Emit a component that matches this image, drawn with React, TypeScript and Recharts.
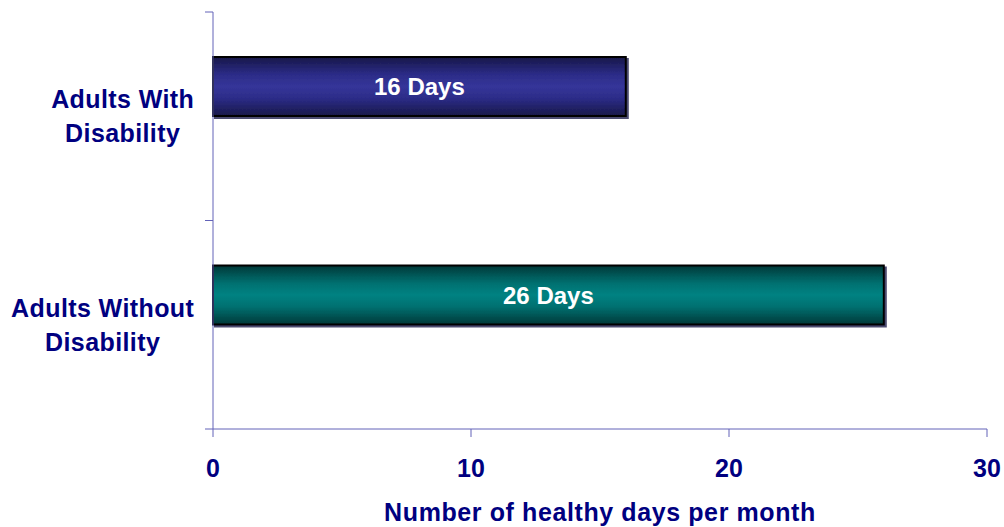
import { Bar, BarChart, Cell, LabelList, XAxis, YAxis } from "recharts";

// groups shown on the category axis (line break = label wrap)
const groups = ["Adults With\nDisability", "Adults Without\nDisability"];
const healthyDays = [16, 26];
// the source chart reserves a second (empty) slot in each group
const emptySeries = [null, null];
const xTicks = [0, 10, 20, 30];

const data = groups.map((g, i) => ({
  group: g,
  days: healthyDays[i],
  blank: emptySeries[i],
}));

const W = 1004;
const H = 527;
const PLOT_TOP = 12;
const PLOT_BOTTOM = 429;
const PLOT_LEFT = 213;
const BAND = (PLOT_BOTTOM - PLOT_TOP) / groups.length;

const NAVY = "#000080";
const AXIS = "#6262b8";
const FONT = "'Liberation Sans', Arial, sans-serif";
const LABEL_SPACING = 0.4;
const barFills = ["url(#navyGrad)", "url(#tealGrad)"];

let ctx: CanvasRenderingContext2D | null = null;
function measure(text: string) {
  if (!ctx) ctx = document.createElement("canvas").getContext("2d");
  if (!ctx) return text.length * 13;
  ctx.font = `bold 25px ${FONT}`;
  return ctx.measureText(text).width + LABEL_SPACING * (text.length - 1);
}

function GroupTick(props: any) {
  const { x, y, payload, index } = props;
  const lines = String(payload.value).split("\n");
  const block = Math.max(...lines.map(measure));
  const cx = x - block / 2;
  return (
    <g>
      <line x1={PLOT_LEFT - 8} x2={PLOT_LEFT} y1={y - BAND / 2} y2={y - BAND / 2} stroke={AXIS} />
      {index === groups.length - 1 && (
        <line x1={PLOT_LEFT - 8} x2={PLOT_LEFT} y1={y + BAND / 2} y2={y + BAND / 2} stroke={AXIS} />
      )}
      <text
        textAnchor="middle"
        fill={NAVY}
        fontSize={25}
        fontWeight={700}
        fontFamily={FONT}
        letterSpacing={LABEL_SPACING}
      >
        {lines.map((l, i) => (
          <tspan key={i} x={cx} y={y - 8 + i * 34}>
            {l}
          </tspan>
        ))}
      </text>
    </g>
  );
}

export default function App() {
  return (
    <div style={{ position: "absolute", left: 0, top: 0, width: W, height: H, background: "#fff" }}>
      <BarChart
        width={W}
        height={H}
        data={data}
        layout="vertical"
        barGap={0}
        margin={{ top: PLOT_TOP, right: 17, bottom: 38, left: 0 }}
      >
        <defs>
          <linearGradient id="navyGrad" x1="0" y1="0" x2="0" y2="1">
            <stop offset="0%" stopColor="#181848" />
            <stop offset="30%" stopColor="#2c2c88" />
            <stop offset="50%" stopColor="#353599" />
            <stop offset="70%" stopColor="#2c2c88" />
            <stop offset="100%" stopColor="#181848" />
          </linearGradient>
          <linearGradient id="tealGrad" x1="0" y1="0" x2="0" y2="1">
            <stop offset="0%" stopColor="#003838" />
            <stop offset="30%" stopColor="#007070" />
            <stop offset="50%" stopColor="#008282" />
            <stop offset="70%" stopColor="#007070" />
            <stop offset="100%" stopColor="#003838" />
          </linearGradient>
          <filter id="barShadow" x="-5%" y="-20%" width="115%" height="150%">
            <feDropShadow dx="2" dy="2" stdDeviation="0.6" floodColor="#000030" floodOpacity="0.7" />
          </filter>
        </defs>
        <XAxis
          type="number"
          domain={[0, 30]}
          ticks={xTicks}
          height={60}
          tickSize={8}
          tickMargin={22}
          axisLine={{ stroke: AXIS }}
          tickLine={{ stroke: AXIS }}
          tick={{ fill: NAVY, fontSize: 25, fontWeight: 700, fontFamily: FONT }}
          label={{
            value: "Number of healthy days per month",
            position: "bottom",
            offset: 14,
            fill: NAVY,
            fontSize: 25,
            fontWeight: 700,
            fontFamily: FONT,
            letterSpacing: 0.6,
          }}
        />
        <YAxis
          type="category"
          dataKey="group"
          width={PLOT_LEFT}
          interval={0}
          tickSize={0}
          tickMargin={19}
          tickLine={false}
          axisLine={{ stroke: AXIS }}
          tick={<GroupTick />}
        />
        <Bar
          dataKey="days"
          barSize={59}
          stroke="#000"
          strokeWidth={2}
          filter="url(#barShadow)"
          isAnimationActive={false}
        >
          {data.map((d, i) => (
            <Cell key={d.group} fill={barFills[i]} />
          ))}
          <LabelList
            dataKey="days"
            position="center"
            formatter={(v: any) => `${v} Days`}
            fill="#fff"
            fontSize={24}
            fontWeight={700}
            fontFamily={FONT}
          />
        </Bar>
        <Bar dataKey="blank" barSize={59} isAnimationActive={false} />
      </BarChart>
    </div>
  );
}
